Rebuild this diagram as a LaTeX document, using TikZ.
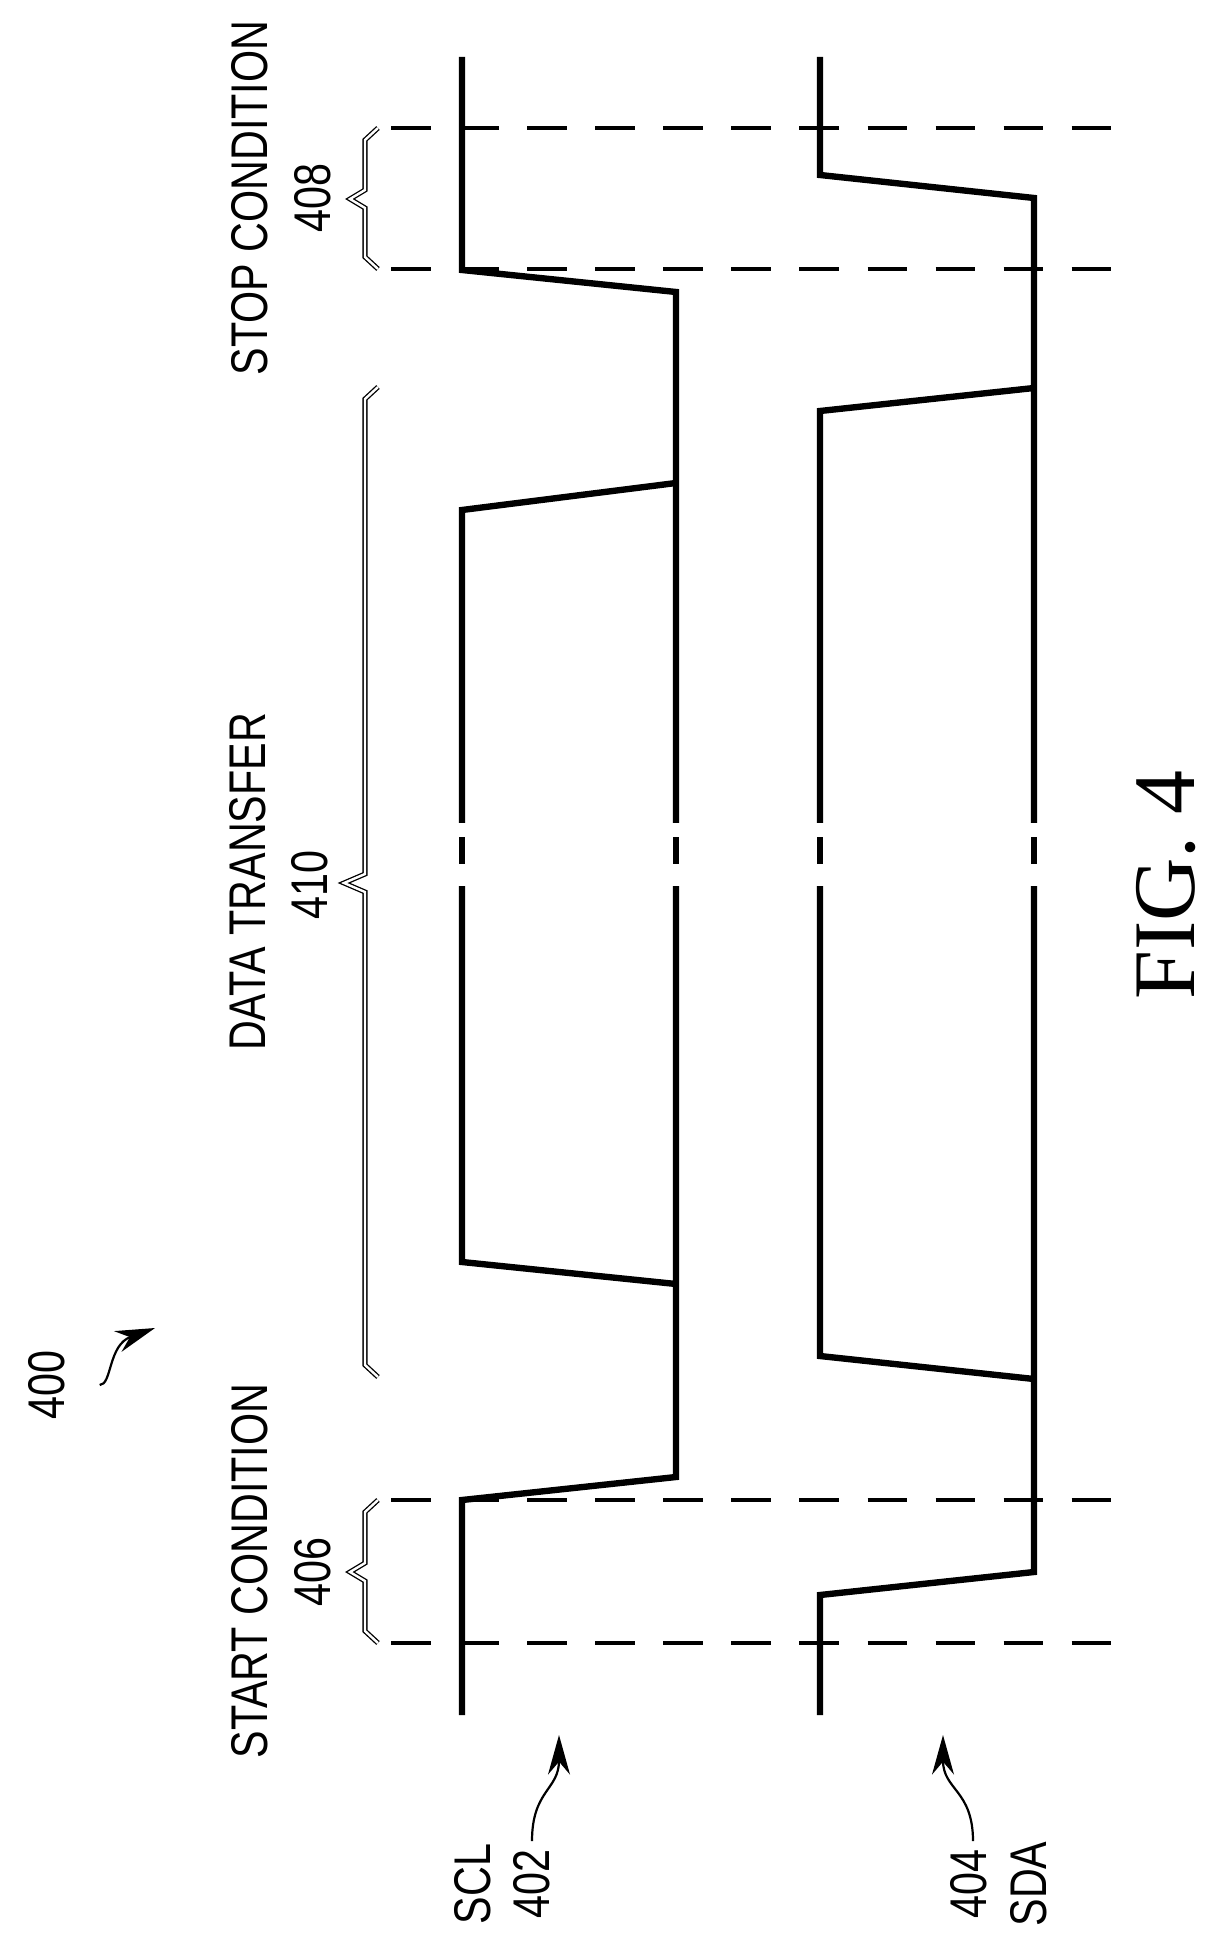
\documentclass[tikz,border=0pt]{standalone}
\usepackage{fontspec}
\setmainfont{Liberation Sans}
\newfontfamily\figfont{Liberation Serif}
\usetikzlibrary{arrows.meta}
\newcommand{\narrow}[1]{\scalebox{0.8}[1]{#1}}
\begin{document}
\begin{tikzpicture}[x=0.016cm,y=-0.016cm,
                    sig/.style = {line width=2.9pt,line join=miter},
                    edge/.style = {line width=1.5pt,dash pattern=on 18pt off 13pt},
                    brc/.style = {double,line width=0.6pt,double distance=1.1pt},
                    lbl/.style = {rotate=90,inner sep=0pt,font=\fontsize{23.5}{24}\selectfont},
                    ptr/.style = {line width=1pt,-{Stealth[length=18pt,width=10pt]}}]

	\useasboundingbox (0,0) rectangle (1213,1938);

	% SCL and SDA
	\draw[sig] (462,57) -- (462,270) -- (676,292) -- (676,1477) -- (462,1500) -- (462,1715);
	\draw[sig] (676,483) -- (462,510) -- (462,1262) -- (676,1284);
	\draw[sig] (820,57) -- (820,175) -- (1034,198) -- (1034,1572) -- (820,1595) -- (820,1715);
	\draw[sig] (1034,388) -- (820,411) -- (820,1356) -- (1034,1379);
	\foreach \x in {462,676,820,1034}{
		\fill[white] (\x-10,823) rectangle (\x+10,886);
		\draw[sig] (\x,837) -- (\x,864);
	}

	% start and stop markers
	\foreach \y in {128,269,1500,1643}
		\draw[edge] (391,\y) -- (1111,\y);

	% braces
	\draw[brc] (378,128) -- (365,140) -- (365,190) -- (350,199) -- (365,208) -- (365,257) -- (378,269);
	\draw[brc] (378,387) -- (365,399) -- (365,874) -- (344,883) -- (365,892) -- (365,1365) -- (378,1377);
	\draw[brc] (378,1500) -- (365,1512) -- (365,1563) -- (350,1572) -- (365,1581) -- (365,1631) -- (378,1643);

	\node[lbl] (stop) at (250,198) {\narrow{STOP CONDITION}};
	\node[lbl] (stopnum) at (313,198) {\narrow{408}};
	\node[lbl] (data) at (248,882) {\narrow{DATA TRANSFER}};
	\node[lbl] (datanum) at (310,885) {\narrow{410}};
	\node[lbl] (start) at (250,1571) {\narrow{START CONDITION}};
	\node[lbl] (startnum) at (313,1572) {\narrow{406}};

	% reference labels
	\node[lbl] (fig) at (47,1385) {\narrow{400}};
	\node[lbl] (scl) at (473,1884) {\narrow{SCL}};
	\node[lbl] (sclnum) at (532,1884) {\narrow{402}};
	\node[lbl] (sdanum) at (969,1884) {\narrow{404}};
	\node[lbl] (sda) at (1029,1884) {\narrow{SDA}};
	\coordinate (figtip) at (155,1328);
	\coordinate (scltip) at (559,1735);
	\coordinate (sdatip) at (943,1735);

	\draw[ptr] (fig.south) ++(34,0) .. controls (112,1385) and (108,1345) .. (figtip);
	\draw[ptr] (sclnum.east) ++(0,-8) .. controls (532,1790) and (559,1790) .. (scltip);
	\draw[ptr] (sdanum.east) ++(4,-8) .. controls (973,1790) and (943,1790) .. (sdatip);

	\node[rotate=90,inner sep=0pt,font=\figfont\fontsize{40}{40}\selectfont] (title) at (1166,885) {FIG. 4};

\end{tikzpicture}
\end{document}
